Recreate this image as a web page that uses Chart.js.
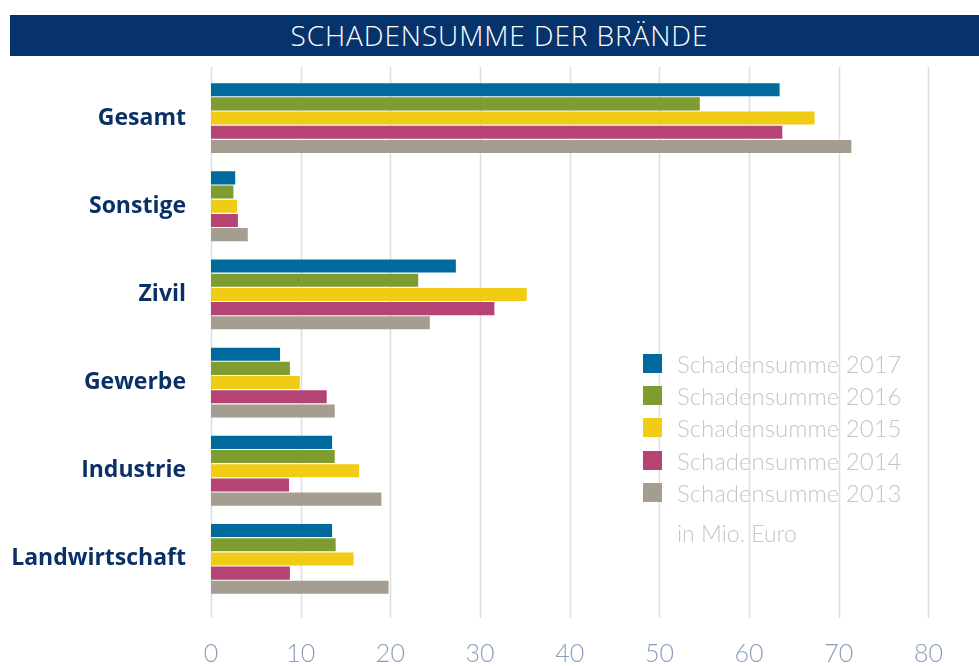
<!DOCTYPE html>
<html>
<head>
<meta charset="utf-8">
<script src="https://cdn.jsdelivr.net/npm/chart.js@4.4.1/dist/chart.umd.min.js"></script>
<style>
  html,body{margin:0;padding:0;background:#fff;}
  #wrap{position:relative;width:979px;height:666px;overflow:hidden;}
  #titlebar{position:absolute;left:10px;top:15px;width:969px;height:41px;background:#06336b;color:#fff;
    font-family:"Open Sans",sans-serif;font-weight:300;font-size:28px;line-height:41px;text-align:center;letter-spacing:0.9px;}
  #titlebar span{position:relative;left:5px;}
  #chartbox{position:absolute;left:0;top:0;width:979px;height:666px;}
  #legend{position:absolute;left:643px;top:347px;font-family:"Lato",sans-serif;font-weight:300;color:#c6c6c6;font-size:24px;}
  .li{height:32.3px;display:flex;align-items:center;}
  .sw{width:19px;height:19px;margin-right:15px;flex:none;}
  #unit{position:absolute;left:677px;top:519px;font-family:"Lato",sans-serif;font-weight:300;color:#c6c6c6;font-size:23px;}
</style>
</head>
<body>
<div id="wrap">
  <div id="chartbox"><canvas id="c" width="979" height="666"></canvas></div>
  <div id="titlebar"><span>SCHADENSUMME DER BRÄNDE</span></div>
  <div id="legend"></div>
  <div id="unit">in Mio. Euro</div>
</div>
<script>
const categories = ["Gesamt","Sonstige","Zivil","Gewerbe","Industrie","Landwirtschaft"];
const seriesLabels = ["Schadensumme 2017","Schadensumme 2016","Schadensumme 2015","Schadensumme 2014","Schadensumme 2013"];
const values2017 = [63.4, 2.7, 27.3, 7.7, 13.5, 13.5];
const values2016 = [54.5, 2.5, 23.1, 8.8, 13.8, 13.9];
const values2015 = [67.3, 2.9, 35.2, 9.9, 16.5, 15.9];
const values2014 = [63.7, 3.0, 31.6, 12.9, 8.7, 8.8];
const values2013 = [71.4, 4.1, 24.4, 13.8, 19.0, 19.8];
const tickValues = [0,10,20,30,40,50,60,70,80];
const colors = ["#006a9f","#7f9c30","#f0cd14","#b54374","#a59d90"];

const allValues = [values2017, values2016, values2015, values2014, values2013];

const gridPlugin = {
  id: 'fullGrid',
  beforeDatasetsDraw(chart){
    const ctx = chart.ctx, xs = chart.scales.x;
    ctx.save();
    ctx.strokeStyle = '#dedede';
    ctx.lineWidth = 1.5;
    tickValues.forEach(v=>{
      const x = Math.round(xs.getPixelForValue(v)) + 0.5;
      ctx.beginPath();
      ctx.moveTo(x, 67);
      ctx.lineTo(x, 618);
      ctx.stroke();
    });
    ctx.restore();
  }
};

new Chart(document.getElementById('c'), {
  type: 'bar',
  data: {
    labels: categories,
    datasets: allValues.map((vals,i)=>({
      label: seriesLabels[i],
      data: vals,
      backgroundColor: colors[i],
      borderWidth: 0,
      categoryPercentage: 0.805,
      barPercentage: 0.92
    }))
  },
  options: {
    indexAxis: 'y',
    responsive: false,
    animation: false,
    layout: { padding: { top: 74, right: 46, left: 0, bottom: 0 } },
    plugins: { legend: { display: false }, tooltip: { enabled: false }, title: { display: false } },
    scales: {
      x: {
        min: 0, max: 80,
        afterBuildTicks(scale){ scale.ticks = tickValues.map(v=>({value:v})); },
        afterFit(scale){ scale.height = 63; },
        grid: { display: false, drawTicks: false },
        border: { display: false },
        ticks: {
          padding: 36,
          color: '#8a9bbf',
          font: { family: 'Lato', weight: '300', size: 25 }
        }
      },
      y: {
        afterFit(scale){ scale.width = 211; },
        grid: { display: false, drawTicks: false },
        border: { display: false },
        ticks: {
          padding: 25,
          color: '#0b3068',
          font: { family: '"Open Sans"', weight: 'bold', size: 23 }
        }
      }
    }
  },
  plugins: [gridPlugin]
});

const lg = document.getElementById('legend');
seriesLabels.forEach((l,i)=>{
  const d = document.createElement('div'); d.className='li';
  const s = document.createElement('div'); s.className='sw'; s.style.background = colors[i];
  const t = document.createElement('span'); t.textContent = l;
  d.appendChild(s); d.appendChild(t); lg.appendChild(d);
});
</script>
</body>
</html>
